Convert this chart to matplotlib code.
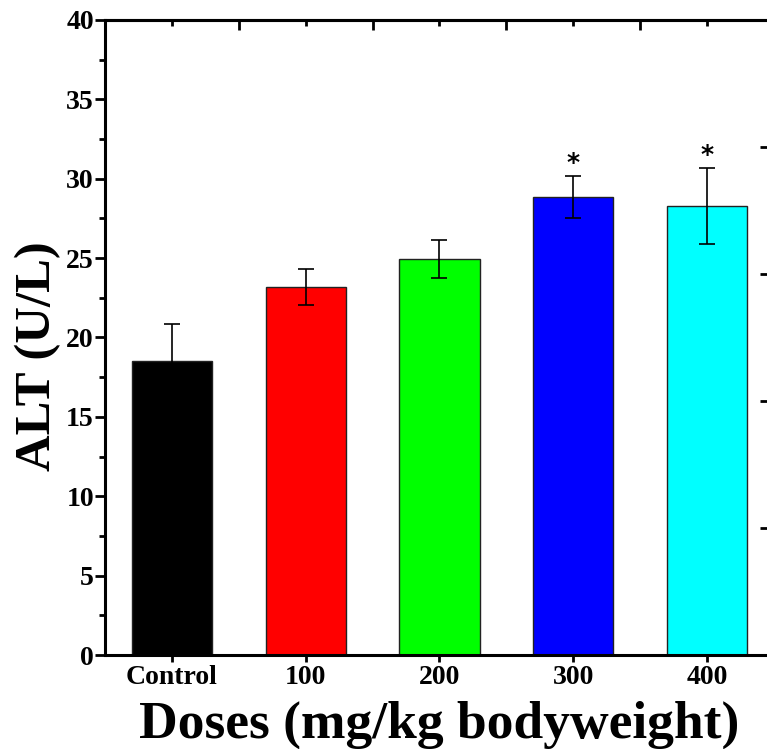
import matplotlib.pyplot as plt
import numpy as np
from matplotlib.ticker import MultipleLocator, FixedLocator

doses = ["Control", "100", "200", "300", "400"]
alt_mean = [18.55, 23.2, 24.92, 28.83, 28.26]
alt_sd = [2.3, 1.13, 1.2, 1.33, 2.4]
bar_colors = ["#000000", "#ff0000", "#00ff00", "#0000ff", "#00ffff"]
signif = ["", "", "", "*", "*"]

plt.rcParams['font.family'] = ['Liberation Serif', 'DejaVu Serif']
plt.rcParams['font.weight'] = 'bold'

fig = plt.figure(figsize=(7.67, 7.49), dpi=100)
ax = fig.add_axes([0.1369, 0.1255, 0.872, 0.8478])

x = np.arange(len(doses))
ax.bar(x, alt_mean, width=0.6, color=bar_colors, edgecolor="#222222", linewidth=1.0, zorder=2)
ax.errorbar(x, alt_mean, yerr=alt_sd, fmt="none", ecolor="#000000", elinewidth=1.2,
            capsize=6, capthick=1.2, zorder=3)
for xi, m, s, t in zip(x, alt_mean, alt_sd, signif):
    if t:
        ax.text(xi, m + s + 0.1, t, ha="center", va="bottom", fontsize=18,
                fontfamily="DejaVu Sans", fontweight="bold")

ax.set_xlim(-0.5, 4.5)
ax.set_ylim(0, 40)

for side in ["left", "bottom", "top", "right"]:
    ax.spines[side].set_linewidth(2.2)

# y axis
ax.yaxis.set_major_locator(MultipleLocator(5))
ax.yaxis.set_minor_locator(MultipleLocator(2.5))
ax.tick_params(axis="y", which="major", direction="out", length=7, width=2, labelsize=20, pad=1)
ax.tick_params(axis="y", which="minor", direction="out", length=4, width=2)

# x axis
ax.set_xticks(x)
ax.set_xticklabels(doses)
ax.tick_params(axis="x", which="major", direction="out", length=5, width=2, labelsize=20, pad=2,
               top=False)
for lbl in ax.get_xticklabels() + ax.get_yticklabels():
    lbl.set_fontweight("bold")

# top axis ticks
top = ax.secondary_xaxis("top")
top.set_xticks([0.5, 1.5, 2.5, 3.5])
top.xaxis.set_minor_locator(FixedLocator([0, 1, 2, 3, 4]))
top.tick_params(which="major", direction="in", length=7, width=2, labeltop=False)
top.tick_params(which="minor", direction="in", length=4, width=2)
top.spines["top"].set_linewidth(2.2)

# right axis ticks
right = ax.secondary_yaxis("right")
right.set_yticks([8, 16, 24, 32])
right.tick_params(direction="in", length=10, width=2, labelright=False)

ax.set_ylabel("ALT (U/L)", fontsize=36.5, fontweight="bold")
ax.yaxis.set_label_coords(-0.066, 0.47)
ax.set_xlabel("Doses (mg/kg bodyweight)", fontsize=38.5, fontweight="bold", labelpad=8)

fig.savefig("out.png", dpi=100)
